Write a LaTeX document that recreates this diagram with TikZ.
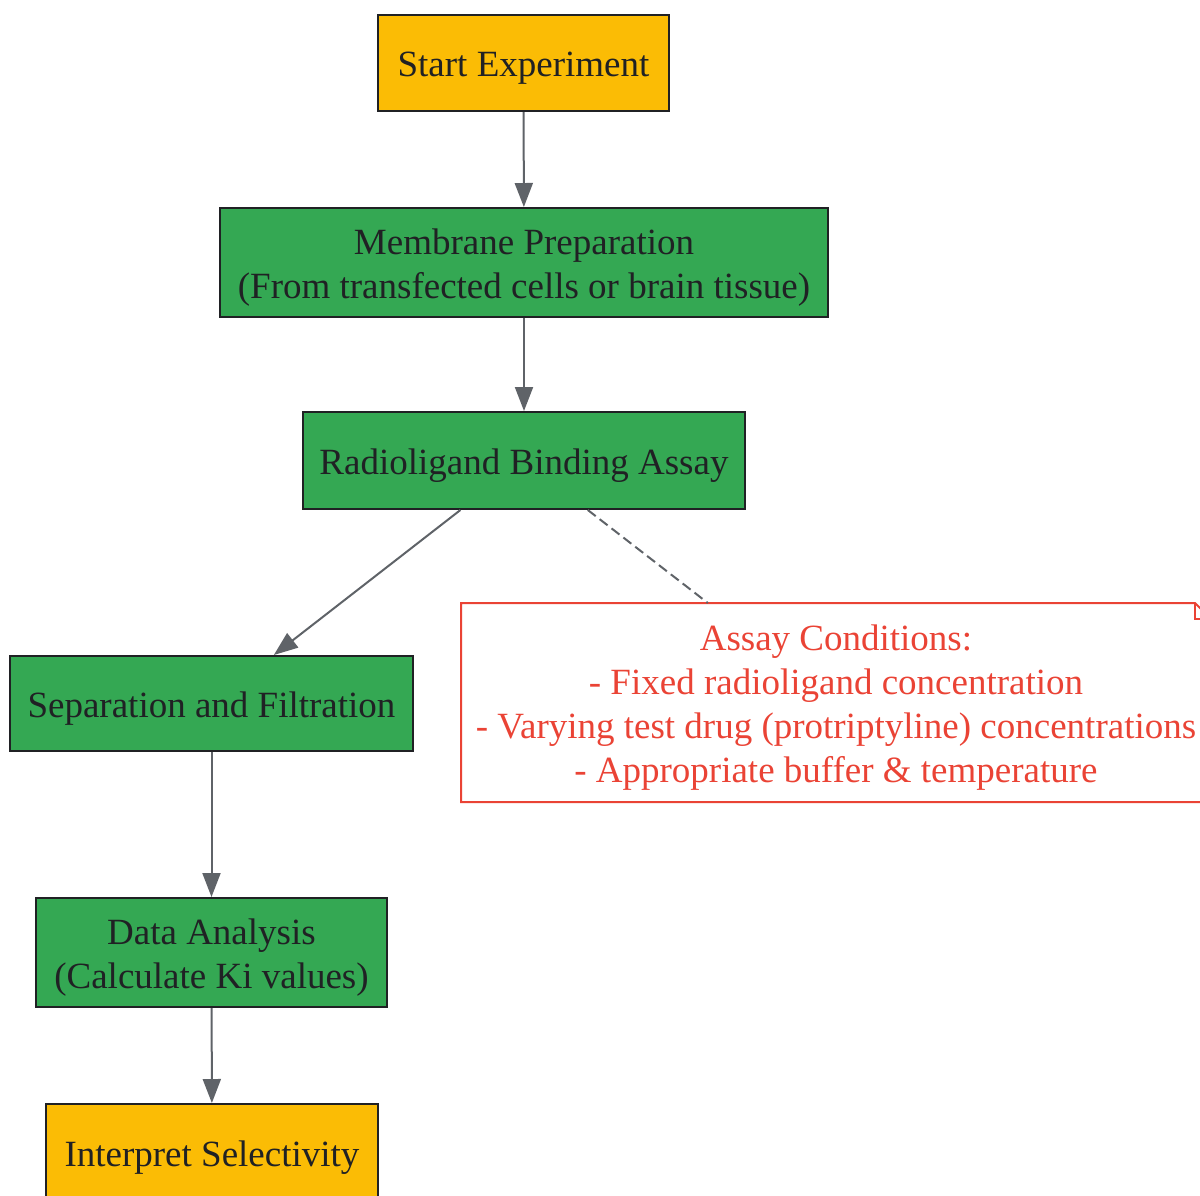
\documentclass[tikz,border=0pt]{standalone}
\usepackage{fontspec}
\setmainfont{Liberation Serif}
\usetikzlibrary{arrows.meta}
\definecolor{startyellow}{HTML}{FBBC05}
\definecolor{stepgreen}{HTML}{34A853}
\definecolor{notered}{HTML}{EA4335}
\definecolor{inkgray}{HTML}{202124}
\definecolor{edgegray}{HTML}{5F6368}
\newcommand{\lift}{\rule{0pt}{17.5pt}}
\tikzstyle{box}=[rectangle, draw=inkgray, line width=1pt, inner sep=0pt, align=center, text=inkgray, font=\fontsize{18.5}{22}\selectfont, execute at begin node={\lift}]
\tikzstyle{yellowbox}=[box, fill=startyellow]
\tikzstyle{greenbox}=[box, fill=stepgreen]
\tikzstyle{flow}=[draw=edgegray, line width=1pt, -{Triangle[length=12pt,width=9pt]}]
\newcommand{\stage}{\node[greenbox]}

\begin{document}
\begin{tikzpicture}[x=0.5pt, y=-0.5pt]
\clip (0,0) rectangle (1200,1195);
\useasboundingbox (0,0) rectangle (1200,1195);
\node[yellowbox, minimum width=145.5pt, minimum height=48pt] (start) at (523.5,63) {Start Experiment};
\stage[minimum width=304pt, minimum height=54.5pt] (membrane) at (524,262.5) {\lift Membrane Preparation\\(From transfected cells or brain tissue)};
\stage[minimum width=221pt, minimum height=48.5pt] (assay) at (524,460.5) {Radioligand Binding Assay};
\stage[minimum width=201.5pt, minimum height=47.5pt] (filter) at (211.5,703.5) {Separation and Filtration};
\stage[minimum width=175.5pt, minimum height=54.5pt] (analysis) at (211.5,952.5) {\lift Data Analysis\\(Calculate Ki values)};
\node[yellowbox, minimum width=166pt, minimum height=48.5pt] (interpret) at (212,1152.5) {Interpret Selectivity};
% note with folded corner
\node[box, draw=none, text=notered, minimum width=374pt, minimum height=98.5pt] (conditions) at (836,702.5) {\lift Assay Conditions:\\- Fixed radioligand concentration\\- Varying test drug (protriptyline) concentrations\\- Appropriate buffer \& temperature};
\draw[notered, line width=1pt] (conditions.south west) -- (conditions.north west) -- ([xshift=-8pt]conditions.north east) -- ([yshift=-8pt]conditions.north east) -- (conditions.south east) -- cycle;
\draw[notered, line width=1pt] ([xshift=-8pt]conditions.north east) -- ([xshift=-8pt,yshift=-8pt]conditions.north east) -- ([yshift=-8pt]conditions.north east);

\draw[flow] (start) -- (membrane);
\draw[flow] (membrane) -- (assay);
\draw[flow] (assay) -- (filter);
\draw[draw=edgegray, line width=1pt, dash pattern=on 5pt off 2.5pt] (assay) -- (conditions);
\draw[flow] (filter) -- (analysis);
\draw[flow] (analysis) -- (interpret);
\end{tikzpicture}
\end{document}
